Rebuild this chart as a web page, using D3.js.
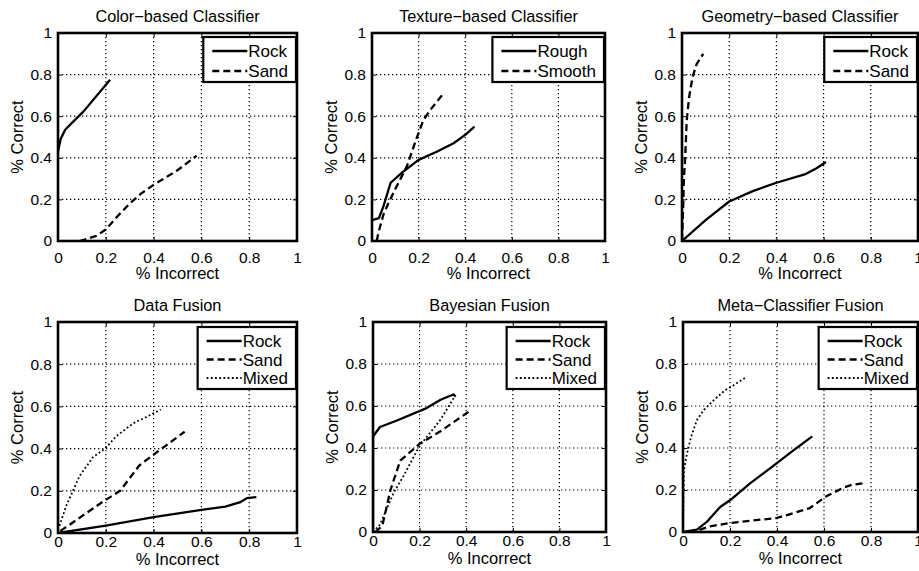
<!DOCTYPE html>
<html>
<head>
<meta charset="utf-8">
<script src="https://cdn.jsdelivr.net/npm/d3@7"></script>
<style>
  body { margin: 0; background: #fff; }
  svg text { font-family: "Liberation Sans", Arial, sans-serif; fill: #000; }
</style>
</head>
<body>
<div id="chart"></div>
<script>
// ---- data ----
var tickVals = [0, 0.2, 0.4, 0.6, 0.8, 1];
var tickLabels = ["0", "0.2", "0.4", "0.6", "0.8", "1"];
var gridVals = [0.2, 0.4, 0.6, 0.8];

var titles = ["Color\u2212based Classifier", "Texture\u2212based Classifier", "Geometry\u2212based Classifier",
              "Data Fusion", "Bayesian Fusion", "Meta\u2212Classifier Fusion"];

var colorRock = [[0,0.43],[0.011,0.49],[0.03,0.535],[0.05,0.558],[0.106,0.622],[0.218,0.775]];
var colorSand = [[0.09,0],[0.12,0.01],[0.16,0.025],[0.2,0.055],[0.25,0.12],[0.3,0.18],[0.35,0.23],[0.4,0.27],[0.5,0.34],[0.58,0.41]];

var textureRough  = [[0,0.1],[0.03,0.11],[0.05,0.17],[0.08,0.28],[0.13,0.33],[0.2,0.39],[0.28,0.43],[0.35,0.47],[0.4,0.51],[0.44,0.55]];
var textureSmooth = [[0.02,0],[0.03,0.05],[0.05,0.13],[0.07,0.18],[0.1,0.25],[0.15,0.36],[0.19,0.49],[0.22,0.58],[0.25,0.63],[0.3,0.7]];

var geomRock = [[0,0],[0.1,0.1],[0.2,0.19],[0.3,0.24],[0.4,0.28],[0.52,0.32],[0.57,0.35],[0.61,0.38]];
var geomSand = [[0,0],[0.005,0.16],[0.008,0.3],[0.013,0.39],[0.02,0.58],[0.03,0.69],[0.045,0.79],[0.062,0.85],[0.09,0.9]];

var dataRock  = [[0,0],[0.2,0.035],[0.4,0.075],[0.6,0.11],[0.7,0.125],[0.76,0.145],[0.79,0.165],[0.83,0.17]];
var dataSand  = [[0.01,0.01],[0.05,0.04],[0.1,0.08],[0.19,0.15],[0.26,0.2],[0.34,0.32],[0.41,0.38],[0.53,0.48]];
var dataMixed = [[0,0.015],[0.035,0.13],[0.09,0.27],[0.147,0.36],[0.197,0.4],[0.245,0.46],[0.315,0.52],[0.37,0.55],[0.43,0.585]];

var bayesRock  = [[0,0],[0,0.455],[0.03,0.5],[0.1,0.53],[0.23,0.59],[0.29,0.63],[0.345,0.655],[0.355,0.645]];
var bayesSand  = [[0.01,0],[0.04,0.03],[0.075,0.2],[0.117,0.34],[0.2,0.42],[0.29,0.48],[0.42,0.58]];
var bayesMixed = [[0,0],[0.03,0.035],[0.09,0.19],[0.13,0.265],[0.2,0.41],[0.29,0.535],[0.35,0.645]];

var metaRock  = [[0,0],[0.059,0.011],[0.101,0.048],[0.158,0.119],[0.2,0.151],[0.284,0.23],[0.369,0.302],[0.46,0.38],[0.55,0.455]];
var metaSand  = [[0.07,0.01],[0.115,0.027],[0.2,0.043],[0.4,0.067],[0.45,0.083],[0.54,0.114],[0.61,0.17],[0.68,0.21],[0.72,0.225],[0.77,0.233]];
var metaMixed = [[0,0],[0.004,0.294],[0.017,0.373],[0.034,0.452],[0.059,0.532],[0.087,0.579],[0.13,0.627],[0.179,0.675],[0.214,0.698],[0.27,0.738]];

// ---- layout ----
var W = 919, H = 571;
var styles = {
  solid:  { width: 2.3, dash: null },
  dashed: { width: 2.3, dash: "7,4" },
  dotted: { width: 1.8, dash: "1.8,2.4" }
};

// tk / lb: baseline offsets below the plot for tick labels and x label
var panels = [
  { title: titles[0], l: 58,  r: 297, t: 33,  b: 241, tk: 21.5, lb: 38, series: [["Rock", colorRock, "solid"], ["Sand", colorSand, "dashed"]] },
  { title: titles[1], l: 372, r: 605, t: 33,  b: 241, tk: 21.5, lb: 38, series: [["Rough", textureRough, "solid"], ["Smooth", textureSmooth, "dashed"]] },
  { title: titles[2], l: 682, r: 918, t: 33,  b: 241, tk: 21.5, lb: 38, series: [["Rock", geomRock, "solid"], ["Sand", geomSand, "dashed"]] },
  { title: titles[3], l: 58,  r: 297, t: 322, b: 533, tk: 13.5, lb: 32, series: [["Rock", dataRock, "solid"], ["Sand", dataSand, "dashed"], ["Mixed", dataMixed, "dotted"]] },
  { title: titles[4], l: 373, r: 606, t: 322, b: 532, tk: 13.5, lb: 32, series: [["Rock", bayesRock, "solid"], ["Sand", bayesSand, "dashed"], ["Mixed", bayesMixed, "dotted"]] },
  { title: titles[5], l: 683, r: 918, t: 322, b: 532, tk: 13.5, lb: 32, series: [["Rock", metaRock, "solid"], ["Sand", metaSand, "dashed"], ["Mixed", metaMixed, "dotted"]] }
];

var svg = d3.select("#chart").append("svg")
  .attr("width", W).attr("height", H)
  .style("display", "block");
svg.append("rect").attr("width", W).attr("height", H).attr("fill", "#fff");

panels.forEach(function (p, pi) {
  var x = d3.scaleLinear().domain([0, 1]).range([p.l, p.r]);
  var y = d3.scaleLinear().domain([0, 1]).range([p.b, p.t]);
  var g = svg.append("g");

  // dotted grid
  g.selectAll(".gx").data(gridVals).enter().append("line")
    .attr("x1", function (d) { return x(d); }).attr("x2", function (d) { return x(d); })
    .attr("y1", p.t).attr("y2", p.b)
    .attr("stroke", "#000").attr("stroke-width", 1.2).attr("stroke-dasharray", "1.3,2.7");
  g.selectAll(".gy").data(gridVals).enter().append("line")
    .attr("y1", function (d) { return y(d); }).attr("y2", function (d) { return y(d); })
    .attr("x1", p.l).attr("x2", p.r)
    .attr("stroke", "#000").attr("stroke-width", 1.2).attr("stroke-dasharray", "1.3,2.7");

  // axes (inward ticks)
  var xa = g.append("g").attr("transform", "translate(0," + p.b + ")")
    .call(d3.axisBottom(x).tickValues(tickVals).tickSize(-4).tickPadding(0)
      .tickFormat(function (d, i) { return tickLabels[i]; }));
  xa.selectAll("text").attr("dy", null).attr("y", p.tk);
  var ya = g.append("g").attr("transform", "translate(" + p.l + ",0)")
    .call(d3.axisLeft(y).tickValues(tickVals).tickSize(-4).tickPadding(6)
      .tickFormat(function (d, i) { return tickLabels[i]; }));
  [xa, ya].forEach(function (a) {
    a.select(".domain").remove();
    a.selectAll("line").attr("stroke", "#000").attr("stroke-width", 1);
    a.selectAll("text").attr("font-size", 15.5).attr("font-family", "Liberation Sans, Arial, sans-serif").attr("fill", "#000");
  });
  // top/right ticks
  g.append("g").attr("transform", "translate(0," + p.t + ")")
    .call(d3.axisTop(x).tickValues(tickVals).tickSize(-4).tickFormat(""))
    .call(function (s) { s.select(".domain").remove(); s.selectAll("line").attr("stroke", "#000"); });
  g.append("g").attr("transform", "translate(" + p.r + ",0)")
    .call(d3.axisRight(y).tickValues(tickVals).tickSize(-4).tickFormat(""))
    .call(function (s) { s.select(".domain").remove(); s.selectAll("line").attr("stroke", "#000"); });

  // series
  var clipId = "clip" + pi;
  svg.append("clipPath").attr("id", clipId).append("rect")
    .attr("x", p.l).attr("y", p.t).attr("width", p.r - p.l).attr("height", p.b - p.t);
  var line = d3.line().x(function (d) { return x(d[0]); }).y(function (d) { return y(d[1]); });
  p.series.forEach(function (s) {
    var st = styles[s[2]];
    g.append("path").datum(s[1])
      .attr("clip-path", "url(#" + clipId + ")")
      .attr("d", line)
      .attr("fill", "none").attr("stroke", "#000")
      .attr("stroke-width", st.width)
      .attr("stroke-dasharray", st.dash)
      .attr("stroke-linejoin", "round");
  });

  // box
  g.append("rect").attr("x", p.l).attr("y", p.t)
    .attr("width", p.r - p.l).attr("height", p.b - p.t)
    .attr("fill", "none").attr("stroke", "#000").attr("stroke-width", 2.6);

  // title and labels
  var cx = (p.l + p.r) / 2;
  g.append("text").attr("x", cx).attr("y", p.t - 11.5).attr("text-anchor", "middle")
    .attr("font-size", 16.3).text(p.title);
  g.append("text").attr("x", cx).attr("y", p.b + p.lb).attr("text-anchor", "middle")
    .attr("font-size", 16.5).text("% Incorrect");
  g.append("text").attr("transform", "translate(" + (p.l - 35) + "," + ((p.t + p.b) / 2) + ") rotate(-90)")
    .attr("text-anchor", "middle").attr("font-size", 16.5).text("% Correct");

  // legend
  var rows = p.series.length;
  var sp = rows === 2 ? 20 : 18.5;
  var lg = g.append("g");
  var txt = [];
  p.series.forEach(function (s) {
    txt.push(lg.append("text").attr("font-size", 17).text(s[0]));
  });
  var tw = d3.max(txt, function (t) { return t.node().getComputedTextLength(); });
  var lw = 45 + tw + 8, lh = 25 + (rows - 1) * sp;
  var lx = p.r - 1 - lw, ly = p.t + (rows === 2 ? 4 : 5);
  lg.insert("rect", ":first-child").attr("x", lx).attr("y", ly).attr("width", lw).attr("height", lh)
    .attr("fill", "#fff").attr("stroke", "#000").attr("stroke-width", 2.2);
  p.series.forEach(function (s, i) {
    var st = styles[s[2]];
    var yy = ly + 14 + i * sp;
    lg.append("line").attr("x1", lx + 9).attr("x2", lx + 44).attr("y1", yy).attr("y2", yy)
      .attr("stroke", "#000").attr("stroke-width", st.width).attr("stroke-dasharray", st.dash);
    txt[i].attr("x", lx + 45).attr("y", yy).attr("dy", "0.36em");
  });
});
</script>
</body>
</html>
